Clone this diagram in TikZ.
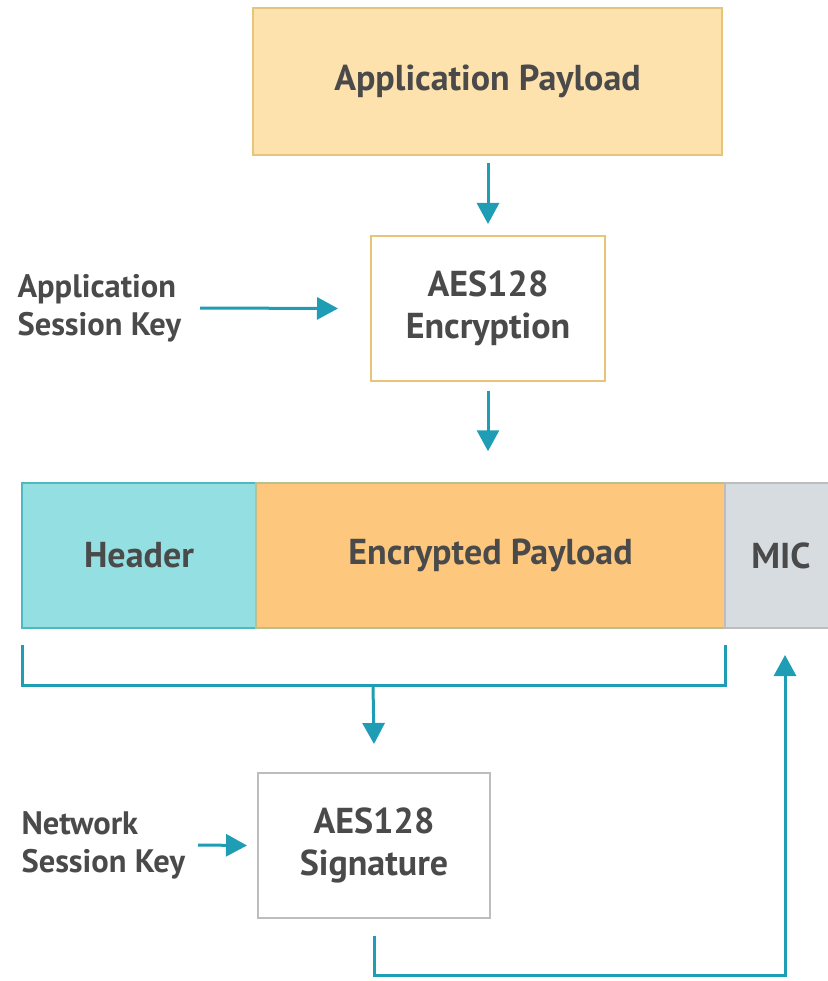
\documentclass[tikz,border=0pt]{standalone}
\usepackage{fontspec}
\setmainfont{PT Sans}
\usetikzlibrary{arrows.meta}
\definecolor{teal1}{HTML}{1E9DB4}
\definecolor{txt}{HTML}{4A4A4A}
\definecolor{payfill}{HTML}{FDE2AE}
\definecolor{payline}{HTML}{E6C478}
\definecolor{hdrfill}{HTML}{93DFE1}
\definecolor{hdrline}{HTML}{4FB8C0}
\definecolor{encfill}{HTML}{FDC77E}
\definecolor{micfill}{HTML}{D6DCE0}
\definecolor{sigline}{HTML}{BDBDBD}
\tikzset{
  boxtxt/.style={font=\bfseries\fontsize{36}{42}\selectfont, text=txt, align=center},
  lbltxt/.style={font=\bfseries\fontsize{32.5}{38}\selectfont, text=txt, align=left, anchor=west},
  flow/.style={draw=teal1, line width=3pt, -{Triangle[length=21pt,width=22pt]}},
  plain/.style={draw=teal1, line width=3pt}
}
\begin{document}
\begin{tikzpicture}[x=1pt,y=-1pt]
\useasboundingbox (0,0) rectangle (827,981);
% top payload
\node[boxtxt, draw=payline, fill=payfill, line width=2pt, minimum width=469pt, minimum height=147pt, inner sep=0pt] (pay) at (487.5,81.5) {Application Payload};
% encryption
\node[boxtxt, draw=payline, fill=white, line width=2pt, minimum width=234pt, minimum height=145pt, inner sep=0pt] (enc) at (488,308.5) {AES128\\Encryption};
\node[lbltxt] (ask) at (14,308) {Application\\Session Key};
% strip
\node[boxtxt, draw=hdrline, fill=hdrfill, line width=1.5pt, minimum width=234pt, minimum height=145pt, inner sep=0pt] (hdr) at (139,555.5) {Header};
\node[boxtxt, draw=payline!70!hdrline, fill=encfill, line width=1.5pt, minimum width=469pt, minimum height=145pt, inner sep=0pt] (encp) at (490.5,555.5) {Encrypted Payload};
\node[boxtxt, draw=sigline, fill=micfill, line width=1.5pt, minimum width=112pt, minimum height=145pt, inner sep=0pt] (mic) at (781,555.5) {MIC};
% signature
\node[boxtxt, draw=sigline, fill=white, line width=2pt, minimum width=232pt, minimum height=145pt, inner sep=0pt] (sig) at (374,845.5) {AES128\\Signature};
\node[lbltxt] (nsk) at (18,845) {Network\\Session Key};
% connectors
\draw[flow] ([yshift=-7pt]pay.south -| enc.north) -- ([yshift=11pt]enc.north);
\draw[flow] ([yshift=-9pt]enc.south) -- ([yshift=31pt]encp.north -| enc.south);
\draw[flow] (200,308) -- ([xshift=-32pt]enc.west);
\coordinate (bl) at (22,645);
\coordinate (br) at (725,645);
\draw[plain] (bl) |- (373,685) -| (br);
\draw[flow] (373,685) -- ([yshift=28pt]sig.north);
\draw[flow] (198,845) -- ([xshift=-10pt]sig.west);
\coordinate (mt) at (785,655);
\draw[flow] ([yshift=-17pt]sig.south) |- (785,975) -- (mt);
\end{tikzpicture}
\end{document}
